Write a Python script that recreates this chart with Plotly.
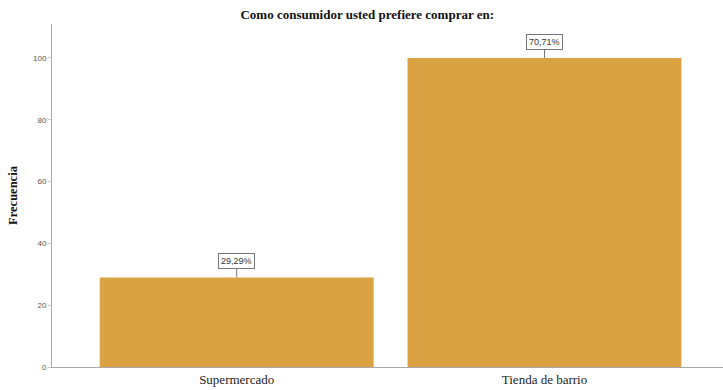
import plotly.graph_objects as go

categories = ["Supermercado", "Tienda de barrio"]
frequencies = [29, 100]
percent_labels = ["29,29%", "70,71%"]
y_ticks = [0, 20, 40, 60, 80, 100]

fig = go.Figure()
fig.add_trace(go.Bar(
    x=[0, 1], y=frequencies,
    width=0.89,
    marker=dict(color="#DBA243", line=dict(width=0)),
    hoverinfo="skip",
))

for i, (v, lab) in enumerate(zip(frequencies, percent_labels)):
    fig.add_annotation(
        x=i, y=v, text=lab, showarrow=True, arrowhead=0, arrowwidth=1,
        arrowcolor="#777777", ax=0, ay=-16,
        font=dict(family="Arial, Liberation Sans, sans-serif", size=9, color="#333333"),
        bordercolor="#777777", borderwidth=1, borderpad=2, bgcolor="white",
    )

fig.update_layout(
    width=723, height=390,
    margin=dict(l=52, r=0, t=24, b=23),
    paper_bgcolor="white", plot_bgcolor="white",
    showlegend=False,
    title=dict(
        text="<b>Como consumidor usted prefiere comprar en:</b>",
        x=0.508, xanchor="center", y=0.964, yanchor="middle",
        font=dict(family="Liberation Serif, Times New Roman, serif", size=13, color="#111111"),
    ),
    xaxis=dict(
        range=[-0.6, 1.58],
        tickvals=[0, 1], ticktext=categories,
        tickfont=dict(family="Liberation Serif, Times New Roman, serif", size=13, color="#222222"),
        showline=True, linecolor="#AAAAAA", linewidth=1,
        showgrid=False, zeroline=False, ticks="", ticklen=0,
    ),
    yaxis=dict(
        range=[0, 111],
        tickvals=y_ticks,
        tickfont=dict(family="Arial, Liberation Sans, sans-serif", size=8, color="#555555"),
        title=dict(text="<b>Frecuencia</b>",
                   font=dict(family="Liberation Serif, Times New Roman, serif", size=12.5, color="#111111"),
                   standoff=12),
        showline=True, linecolor="#AAAAAA", linewidth=1,
        showgrid=False, zeroline=False, ticks="outside", ticklen=3, tickcolor="#CCCCCC",
    ),
)

fig.write_html("out.html", config={"displayModeBar": False},
               post_script="document.body.style.margin='0';")
